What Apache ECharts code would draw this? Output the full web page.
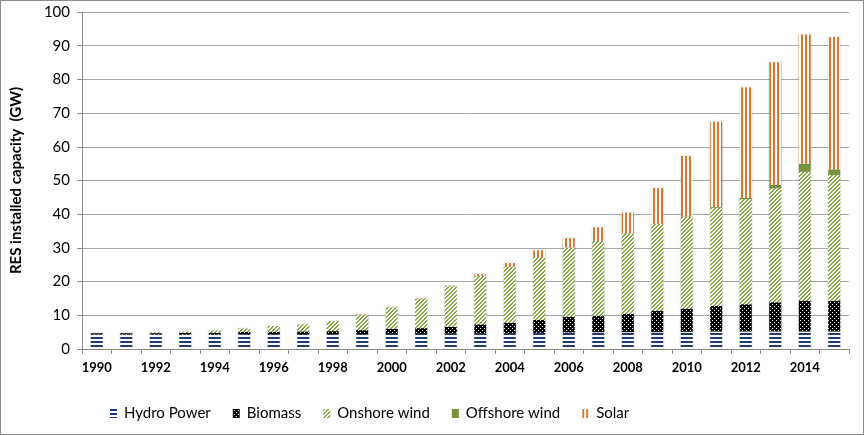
<!DOCTYPE html>
<html>
<head>
<meta charset="utf-8">
<script src="https://cdn.jsdelivr.net/npm/echarts@6/dist/echarts.min.js"></script>
<style>
  html, body { margin: 0; padding: 0; background: #fff; }
  #chart { width: 862px; height: 433px; border: 1px solid #8c8c8c; }
</style>
</head>
<body>
<div id="chart"></div>
<script>
// years on the x axis
const years = ['1990','1991','1992','1993','1994','1995','1996','1997','1998','1999','2000','2001','2002',
  '2003','2004','2005','2006','2007','2008','2009','2010','2011','2012','2013','2014','2015']

// stacked segments in GW
const hydro = [4.3,4.3,4.3,4.3,4.3,4.4,4.4,4.4,4.4,4.4,4.5,4.5,4.6,4.6,4.7,4.8,4.9,5.0,5.0,5.0,5.1,5.2,5.2,5.2,5.2,5.2]
const biomass = [0.4,0.4,0.4,0.45,0.5,0.7,0.7,0.8,0.9,1.2,1.5,1.7,2.0,2.7,3.1,3.8,4.7,4.9,5.4,6.3,6.9,7.6,8.1,8.7,9.1,9.1]
const onshore = [0.05,0.1,0.2,0.4,0.7,1.0,1.7,2.1,3.0,4.7,6.4,8.8,12.0,14.4,16.6,18.5,20.5,22.2,23.9,25.8,27.2,29.1,31.2,33.8,38.3,37.3]
const offshore = [0,0,0,0,0,0,0,0,0,0,0,0,0,0,0,0,0,0,0.03,0.05,0.1,0.2,0.3,1.0,2.4,1.7]
const solar = [0,0,0,0,0,0,0,0,0,0.05,0.05,0.1,0.2,0.5,1.1,2.2,2.8,4.0,6.1,10.6,18.0,25.3,32.8,36.4,38.3,39.3]

const yTicks = { min: 0, max: 100, step: 10 }

// small canvases used as fill patterns
function makePattern(w, h, draw) {
  const c = document.createElement('canvas')
  c.width = w
  c.height = h
  const ctx = c.getContext('2d')
  draw(ctx)
  return { image: c, repeat: 'repeat' }
}

const hydroFill = makePattern(4, 4, ctx => {
  ctx.fillStyle = '#fff'; ctx.fillRect(0, 0, 4, 4)
  ctx.fillStyle = '#1f3a6e'; ctx.fillRect(0, 0, 4, 2)
})
const biomassFill = makePattern(4, 4, ctx => {
  ctx.fillStyle = '#000'; ctx.fillRect(0, 0, 4, 4)
  ctx.fillStyle = '#fff'; ctx.fillRect(1, 1, 1, 1); ctx.fillRect(3, 3, 1, 1)
})
const onshoreFill = makePattern(4, 4, ctx => {
  ctx.fillStyle = '#fff'; ctx.fillRect(0, 0, 4, 4)
  ctx.fillStyle = '#86a843'
  for (let x = 0; x < 4; x++) {
    for (let y = 0; y < 4; y++) {
      if ((x + y) % 4 === 0 || (x + y) % 4 === 1) ctx.fillRect(x, y, 1, 1)
    }
  }
})
const solarFill = makePattern(4, 1, ctx => {
  ctx.fillStyle = '#fff'; ctx.fillRect(0, 0, 4, 1)
  ctx.fillStyle = '#ea7120'; ctx.fillRect(0, 0, 2, 1)
})

function barSeries(name, data, color) {
  return {
    name: name,
    type: 'bar',
    stack: 'total',
    barWidth: 12,
    data: data,
    itemStyle: {
      color: color,
      shadowBlur: 2,
      shadowColor: 'rgba(0,0,0,0.18)'
    }
  }
}

const chart = echarts.init(document.getElementById('chart'))
chart.setOption({
  animation: false,
  textStyle: { fontFamily: 'Lato, "Open Sans", sans-serif' },
  grid: { left: 81, right: 14, top: 11, bottom: 85 },
  legend: {
    left: 104,
    top: 400,
    icon: 'rect',
    itemWidth: 7,
    itemHeight: 9,
    itemGap: 22,
    textStyle: { fontSize: 15, color: '#000', padding: [0, 0, 0, 2] },
    data: ['Hydro Power', 'Biomass', 'Onshore wind', 'Offshore wind', 'Solar']
  },
  xAxis: {
    type: 'category',
    data: years,
    axisLine: { lineStyle: { color: '#8c8c8c' } },
    axisTick: { show: true, interval: 0, length: 5, lineStyle: { color: '#8c8c8c' } },
    axisLabel: { interval: 1, fontWeight: 'bold', fontSize: 13, color: '#000', margin: 12 }
  },
  yAxis: {
    type: 'value',
    min: yTicks.min,
    max: yTicks.max,
    interval: yTicks.step,
    name: 'RES installed capacity  (GW)',
    nameLocation: 'middle',
    nameGap: 58,
    nameTextStyle: { fontWeight: 'bold', fontSize: 15, color: '#000' },
    axisLine: { show: true, lineStyle: { color: '#8c8c8c' } },
    axisTick: { show: true, length: 5, lineStyle: { color: '#8c8c8c' } },
    axisLabel: { fontSize: 15, color: '#000', margin: 12 },
    splitLine: { lineStyle: { color: '#a6a6a6' } }
  },
  series: [
    barSeries('Hydro Power', hydro, hydroFill),
    barSeries('Biomass', biomass, biomassFill),
    barSeries('Onshore wind', onshore, onshoreFill),
    barSeries('Offshore wind', offshore, '#77933c'),
    barSeries('Solar', solar, solarFill)
  ]
})
</script>
</body>
</html>
